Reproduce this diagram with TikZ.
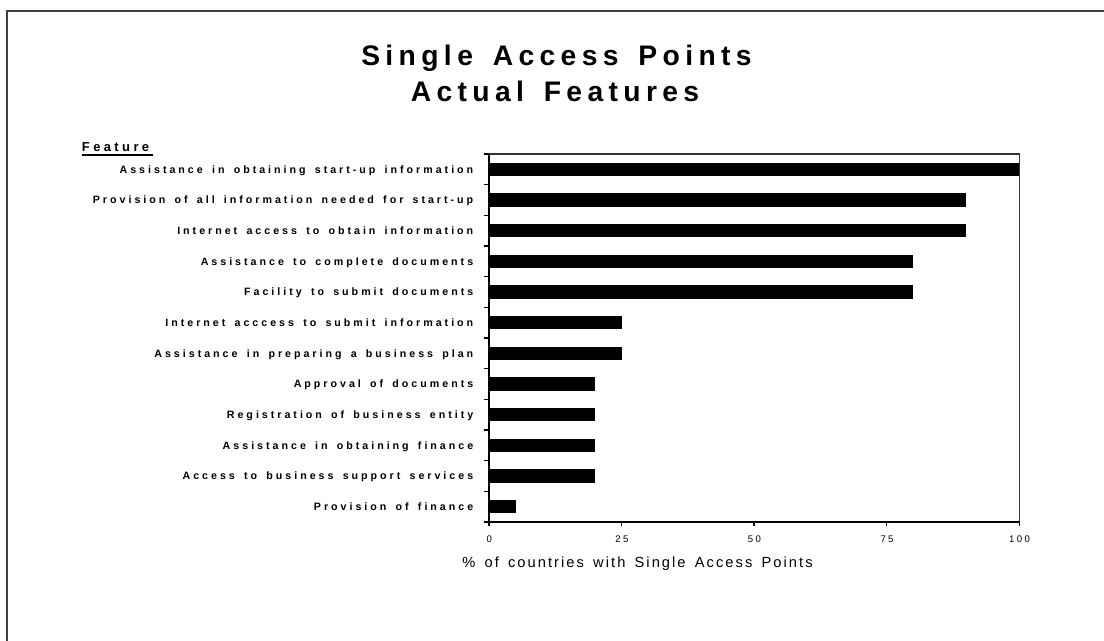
\documentclass[tikz,border=0pt]{standalone}
\usepackage{fontspec}
\setmainfont{Liberation Sans}
\newfontfamily\titlefam[LetterSpace=19,WordSpace=1.5]{Liberation Sans}
\newfontfamily\lblfam[LetterSpace=28,WordSpace=1.55]{Liberation Sans}
\newfontfamily\featfam[LetterSpace=26]{Liberation Sans}
\newfontfamily\tickfam[LetterSpace=25]{Liberation Sans}
\newfontfamily\xlabfam[LetterSpace=14,WordSpace=1.5]{Liberation Sans}
\newcommand\titlef{\titlefam\bfseries\fontsize{21.2}{24}\selectfont}
\newcommand\lblf{\lblfam\bfseries\fontsize{8}{9}\selectfont}
\newcommand\featf{\featfam\bfseries\fontsize{9.75}{11}\selectfont}
\newcommand\tickf{\tickfam\fontsize{7.2}{8}\selectfont}
\newcommand\xlabf{\xlabfam\fontsize{11}{13}\selectfont}
\tikzset{
  titlestyle/.style={anchor=base, inner sep=0pt, font=\titlef},
  lbl/.style={anchor=base east, inner sep=0pt, font=\lblf},
  featstyle/.style={anchor=base west, inner sep=0pt, font=\featf},
  ticklbl/.style={anchor=base, inner sep=0pt, font=\tickf},
  xlab/.style={anchor=base, inner sep=0pt, font=\xlabf},
  barfill/.style={fill=black, draw=none},
  axisline/.style={draw=black, line width=1.5pt},
  frameline/.style={draw=black!80, line width=0.8pt},
  outerframe/.style={draw=black!75, line width=0.9pt},
  tickline/.style={draw=black, line width=1pt}
}
\begin{document}
\begin{tikzpicture}[x=0.75pt,y=-0.75pt]
\useasboundingbox (0,0) rectangle (1104,641);
\fill[white] (0,0) rectangle (1104,641);
% outer frame (extends beyond the picture on right and bottom)
\draw[outerframe] (7,660) -- (7,11) -- (1120,11);
% title
\node[titlestyle] (t1) at (556.5,65.7) {Single Access Points};
\node[titlestyle] (t2) at (555,101.7) {Actual Features};
% Feature heading
\node[featstyle] (feat) at (81.7,151.7) {Feature};
\draw[line width=1.1pt] (81.5,155) -- (153,155);
% plot frame
\coordinate (tl) at (489,154);
\coordinate (tr) at (1019.3,154);
\coordinate (br) at (1019.3,522);
\coordinate (o) at (489,522);
\draw[frameline] (tl) -- (tr) -- (br);
% bars and labels
\foreach \v/\t [count=\i from 0] in {
  100/Assistance in obtaining start-up information,
  90/Provision of all information needed for start-up,
  90/Internet access to obtain information,
  80/Assistance to complete documents,
  80/Facility to submit documents,
  25/Internet acccess to submit information,
  25/Assistance in preparing a business plan,
  20/Approval of documents,
  20/Registration of business entity,
  20/Assistance in obtaining finance,
  20/Access to business support services,
  5/Provision of finance}{
  \pgfmathsetmacro\c{169.33+30.667*\i}
  \fill[barfill] (489,\c-6.75) rectangle (489+5.303*\v,\c+6.75);
  \node[lbl] (l\i) at (473.5,\c+3.9) {\t};
}
% y ticks
\foreach \i in {0,...,12}{
  \pgfmathsetmacro\yy{154+30.667*\i}
  \draw[tickline] (483.5,\yy) -- (489,\yy);
}
% x ticks and labels
\foreach \k/\lab in {0/0,1/25,2/50,3/75,4/100}{
  \pgfmathsetmacro\xx{489+132.58*\k}
  \draw[tickline] (\xx,522) -- (\xx,526);
  \node[ticklbl] (x\k) at (\xx+0.3,542) {\lab};
}
\draw[axisline] (tl) -- (o) -- (br);
% axis title
\node[xlab] (xl) at (637.5,568) {\% of countries with Single Access Points};
\end{tikzpicture}
\end{document}
